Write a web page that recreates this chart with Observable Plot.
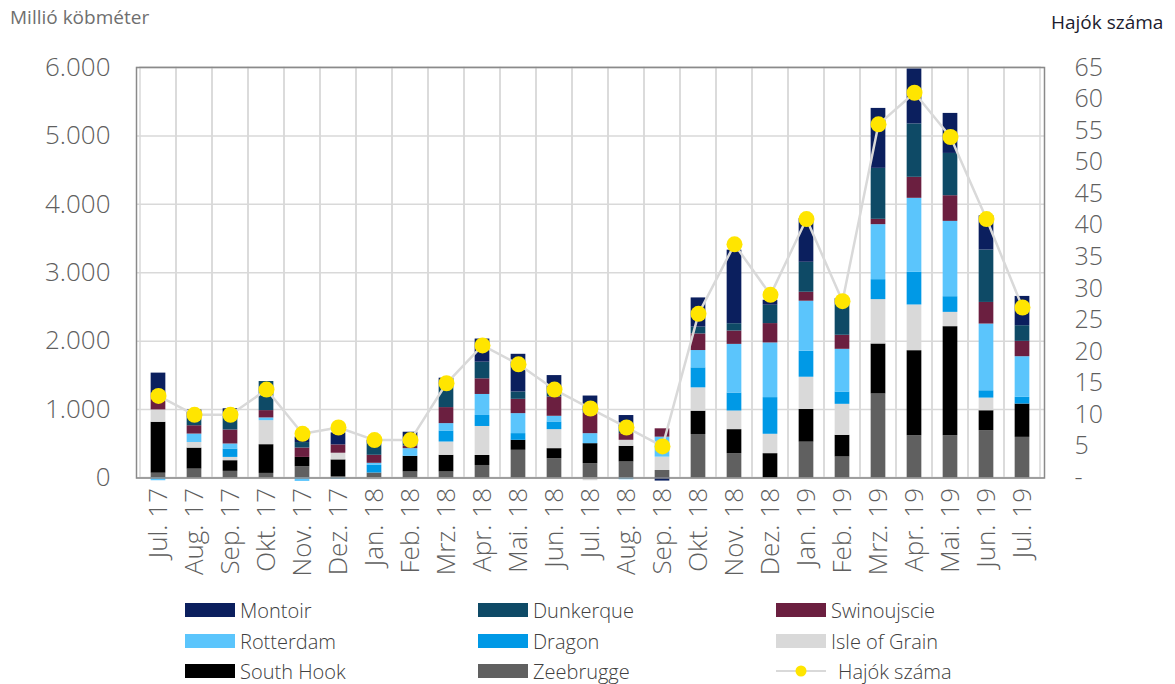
<!DOCTYPE html>
<html>
<head>
<meta charset="utf-8">
<script src="https://cdn.jsdelivr.net/npm/d3@7"></script>
<script src="https://cdn.jsdelivr.net/npm/@observablehq/plot@0.6"></script>
<style>
  html, body { margin: 0; padding: 0; background: #fff; }
  #wrap { position: relative; width: 1175px; height: 684px; font-family: "Open Sans", sans-serif; overflow: hidden; }
  #chart { position: absolute; left: 0; top: 0; }
  .ttl { position: absolute; white-space: nowrap; }
  .leg { position: absolute; display: flex; align-items: center; font-size: 20px; color: #404040; white-space: nowrap; font-weight: 300; }
  .sw { width: 50px; height: 14px; margin-right: 5px; }
</style>
</head>
<body>
<div id="wrap">
  <div id="chart"></div>
  <div class="ttl" style="left:10px; top:4px; font-size:19px; color:#6f6f6f;">Millió köbméter</div>
  <div class="ttl" style="left:1051px; top:9px; font-size:19px; color:#1c1c2e;">Hajók száma</div>
</div>
<script>
const months = ["Jul. 17","Aug. 17","Sep. 17","Okt. 17","Nov. 17","Dez. 17","Jan. 18","Feb. 18","Mrz. 18","Apr. 18","Mai. 18","Jun. 18","Jul. 18","Aug. 18","Sep. 18","Okt. 18","Nov. 18","Dez. 18","Jan. 19","Feb. 19","Mrz. 19","Apr. 19","Mai. 19","Jun. 19","Jul. 19"];

// stacking order, bottom to top
const seriesNames = ["Zeebrugge","South Hook","Isle of Grain","Dragon","Rotterdam","Swinoujscie","Dunkerque","Montoir"];
const seriesColors = ["#606060","#000000","#d9d9d9","#0099e6","#5bc5fc","#6b1f40","#0e4a66","#0b1f5e"];

const zeebrugge   = [70,130,97,67,165,20,73,88,88,183,405,283,210,234,110,636,356,0,524,307,1228,618,618,691,594];
const southHook   = [745,307,156,420,136,245,0,229,244,146,146,146,292,229,0,341,351,356,477,317,731,1243,1594,292,487];
const isleOfGrain = [180,82,48,351,0,97,-25,0,194,424,0,278,-40,88,195,341,272,283,472,453,648,668,209,185,0];
const dragon      = [0,0,123,0,0,0,112,0,161,161,98,112,0,0,0,292,263,536,380,180,292,477,229,107,98];
const rotterdam   = [-40,123,73,40,-50,-20,30,112,108,307,292,83,146,-25,292,253,711,799,731,624,804,1082,1101,975,594];
const swinoujscie = [238,122,205,107,137,122,117,40,234,229,209,282,300,98,122,243,195,283,131,205,78,307,375,316,224];
const dunkerque   = [0,120,250,425,80,0,170,100,330,243,107,100,100,104,0,100,107,268,438,450,745,780,618,766,229];
const montoir     = [300,110,60,0,80,175,50,100,100,338,551,213,150,160,-45,426,1075,73,638,85,876,804,585,500,428];

const ships = [13,10,10,14,7,8,6,6,15,21,18,14,11,8,5,26,37,29,41,28,56,61,54,41,27];

const leftTicks = [0,1000,2000,3000,4000,5000,6000];
const rightTicks = [0,5,10,15,20,25,30,35,40,45,50,55,60,65];

const legendOrder = ["Montoir","Dunkerque","Swinoujscie","Rotterdam","Dragon","Isle of Grain","South Hook","Zeebrugge","Hajók száma"];

const seriesValues = {
  "Zeebrugge": zeebrugge, "South Hook": southHook, "Isle of Grain": isleOfGrain,
  "Dragon": dragon, "Rotterdam": rotterdam, "Swinoujscie": swinoujscie,
  "Dunkerque": dunkerque, "Montoir": montoir
};

const data = [];
seriesNames.forEach(s => seriesValues[s].forEach((v, i) => data.push({month: months[i], series: s, value: v})));
const shipData = months.map((m, i) => ({month: m, ships: ships[i]}));

const yMax = leftTicks[leftTicks.length - 1];
const shipMax = rightTicks[rightTicks.length - 1];
const k = yMax / shipMax;

const loc = d3.formatLocale({decimal: ",", thousands: ".", grouping: [3], currency: ["", ""]});
const fmt = loc.format(",");

const W = 1175, H = 684;
const mL = 136, mR = 131, mT = 67, mB = 206.5;
const band = (W - mL - mR) / months.length;
const barW = 15;
const inset = (band - barW) / 2;
const txt = "#5f5f5f";

const chart = Plot.plot({
  width: W, height: H,
  marginLeft: mL, marginRight: mR, marginTop: mT, marginBottom: mB,
  style: {fontFamily: "'Open Sans', sans-serif", background: "transparent", overflow: "visible"},
  x: {domain: months, padding: 0},
  y: {domain: [0, yMax]},
  color: {domain: seriesNames, range: seriesColors},
  marks: [
    Plot.gridY({ticks: leftTicks, stroke: "#d9d9d9", strokeOpacity: 1, strokeWidth: 1.5}),
    Plot.barY(months, {x: d => d, y1: () => 0, y2: () => yMax, fill: "none", stroke: "#d9d9d9", strokeWidth: 1.5}),
    Plot.barY(data, {x: "month", y: "value", fill: "series", z: "series", order: seriesNames, insetLeft: inset, insetRight: inset}),
    Plot.frame({stroke: "#8a8a8a", strokeWidth: 1.5}),
    Plot.line(shipData, {x: "month", y: d => d.ships * k, stroke: "#d9d9d9", strokeWidth: 2.5}),
    Plot.dot(shipData, {x: "month", y: d => d.ships * k, r: 8, fill: "#ffe500", stroke: "none"}),
    Plot.axisY({anchor: "left", ticks: leftTicks, tickFormat: fmt, tickSize: 0, tickPadding: 26, fontSize: 26, fontWeight: 300, label: null, color: txt}),
    Plot.axisY({anchor: "right", ticks: rightTicks.map(s => s * k), tickFormat: v => { const s = Math.round(v / k); return s === 0 ? "-" : String(s); }, tickSize: 0, tickPadding: 30, fontSize: 25, fontWeight: 300, label: null, color: txt}),
    Plot.axisX({tickRotate: -90, tickSize: 0, tickPadding: 10, fontSize: 26, fontWeight: 300, label: null, color: txt})
  ]
});
document.getElementById("chart").appendChild(chart);

// legend
const wrap = document.getElementById("wrap");
const colX = [185, 478, 776];
const rowY = [600, 631, 661];
legendOrder.forEach((name, i) => {
  const c = i % 3, r = Math.floor(i / 3);
  const el = document.createElement("div");
  el.className = "leg";
  el.style.left = colX[c] + "px";
  el.style.top = rowY[r] + "px";
  el.style.height = "20px";
  const idx = seriesNames.indexOf(name);
  if (idx >= 0) {
    const sw = document.createElement("div");
    sw.className = "sw";
    sw.style.background = seriesColors[idx];
    el.appendChild(sw);
  } else {
    const svgNS = "http://www.w3.org/2000/svg";
    const s = document.createElementNS(svgNS, "svg");
    s.setAttribute("width", 60); s.setAttribute("height", 20);
    s.style.marginRight = "2px";
    const ln = document.createElementNS(svgNS, "line");
    ln.setAttribute("x1", 0); ln.setAttribute("x2", 50); ln.setAttribute("y1", 10); ln.setAttribute("y2", 10);
    ln.setAttribute("stroke", "#d9d9d9"); ln.setAttribute("stroke-width", 2);
    const ci = document.createElementNS(svgNS, "circle");
    ci.setAttribute("cx", 25); ci.setAttribute("cy", 10); ci.setAttribute("r", 5.5); ci.setAttribute("fill", "#ffe500");
    s.appendChild(ln); s.appendChild(ci);
    el.appendChild(s);
  }
  const t = document.createElement("span");
  t.textContent = name;
  el.appendChild(t);
  wrap.appendChild(el);
});
</script>
</body>
</html>
